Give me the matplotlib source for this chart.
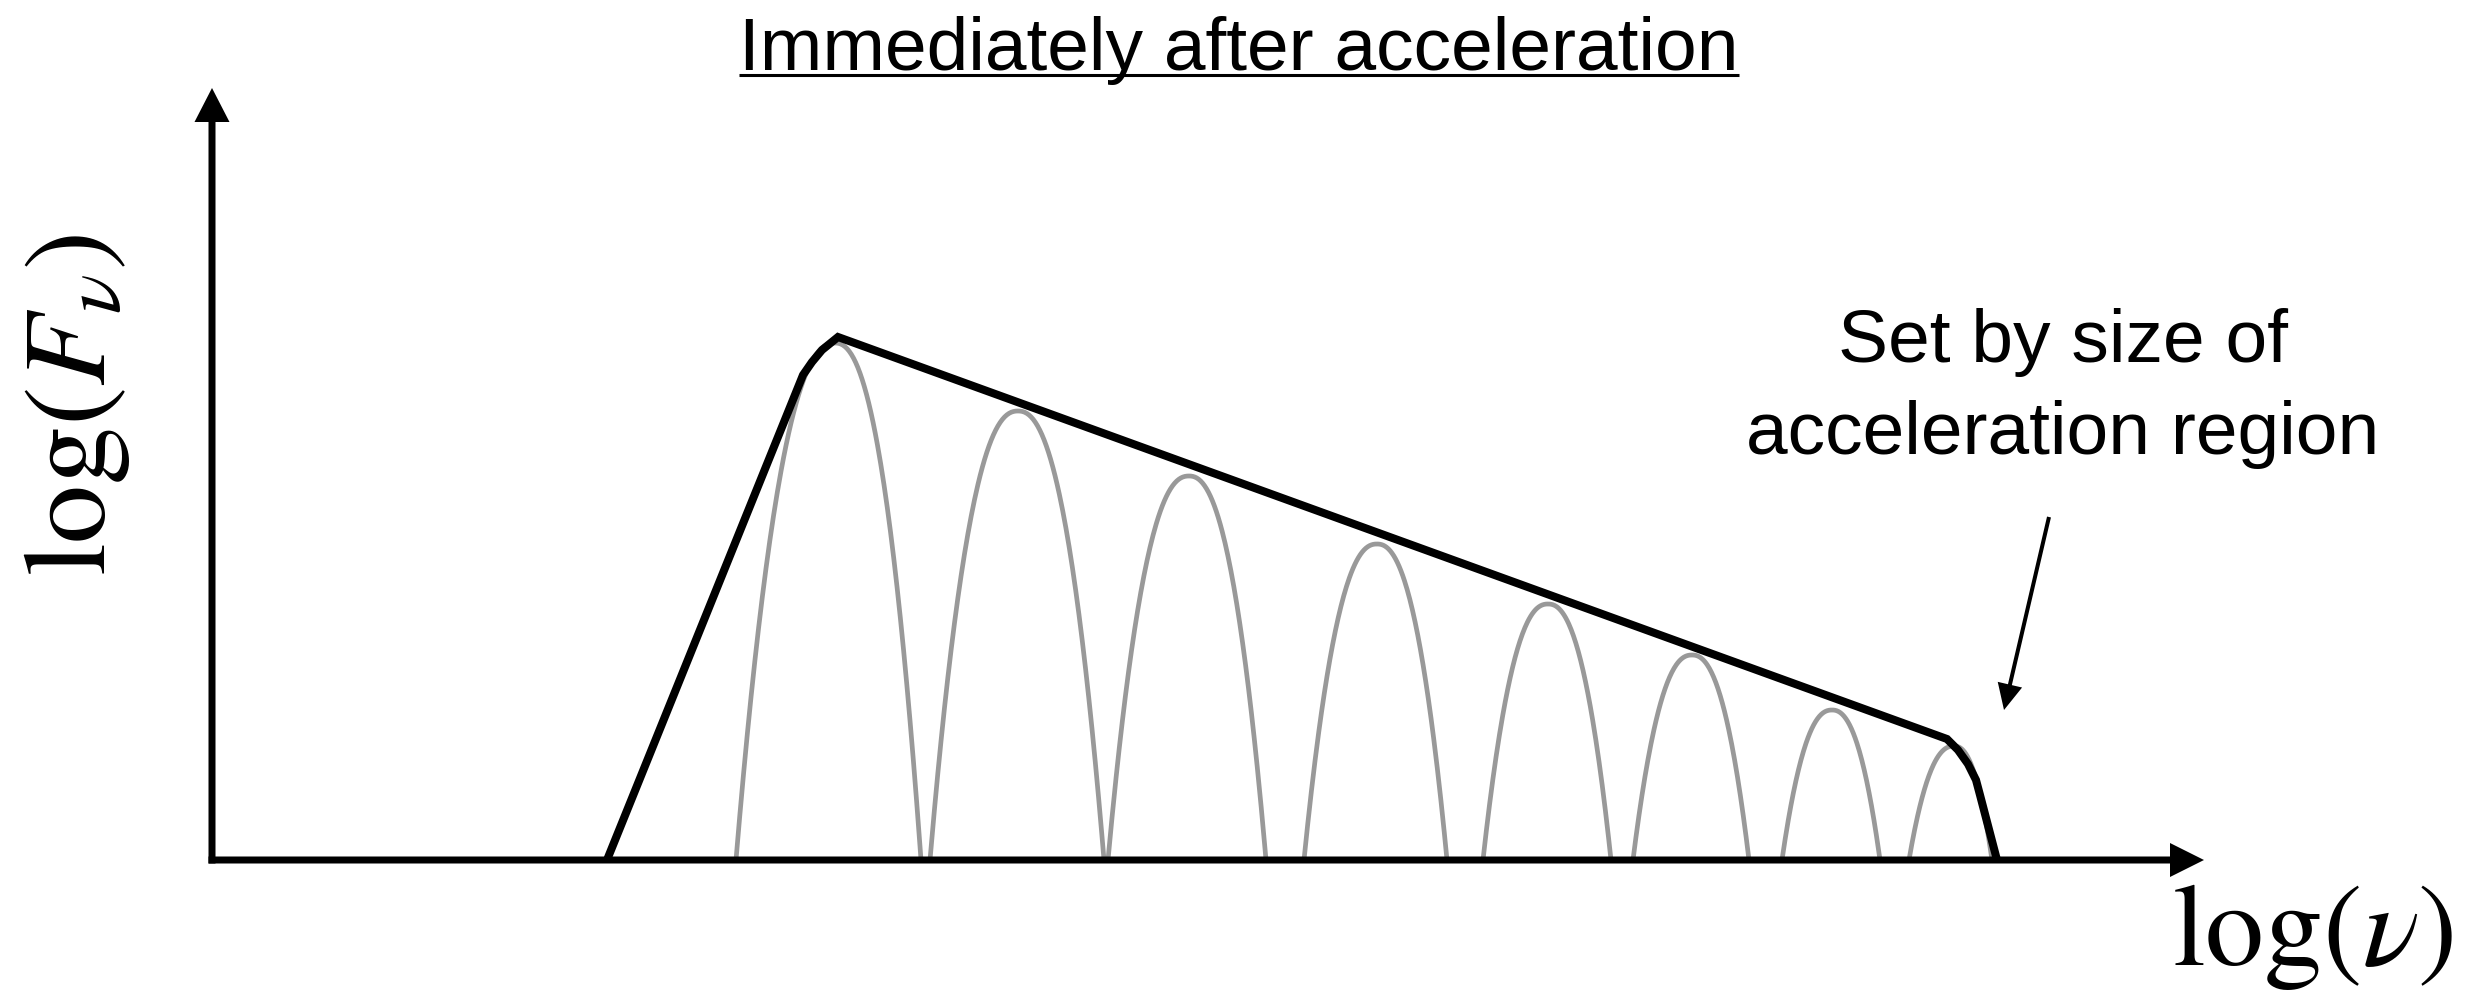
import numpy as np
import matplotlib.pyplot as plt

plt.rcParams['font.family'] = ['Liberation Sans', 'DejaVu Sans']
plt.rcParams['mathtext.fontset'] = 'stix'

# total spectrum envelope in (log nu, log F_nu)
env_x = [3.95, 5.91, 6.00, 6.10, 6.26, 17.35, 17.46, 17.56, 17.64, 17.68, 17.85]
env_y = [0.00, 4.85, 4.98, 5.10, 5.23, 1.21, 1.10, 0.96, 0.80, 0.65, 0.00]

# individual humps: peak position, peak height, and where each one meets the axis
peak_x = [6.23, 8.06, 9.77, 11.65, 13.36, 14.80, 16.20, 17.42]
peak_y = [5.17, 4.49, 3.84, 3.16, 2.56, 2.05, 1.50, 1.14]
foot_lo = [5.24, 7.18, 8.96, 10.92, 12.71, 14.21, 15.70, 16.97]
foot_hi = [7.09, 8.92, 10.54, 12.35, 13.99, 15.37, 16.68, 17.80]

fig = plt.figure(figsize=(24.88, 9.91), dpi=100)
ax = fig.add_axes([0, 0, 1, 1])
ax.set_xlim(-2.12, 22.76)
ax.set_ylim(-1.31, 8.60)
ax.axis('off')

# grey humps, rounded top and steep sides
for xp, yp, a, b in zip(peak_x, peak_y, foot_lo, foot_hi):
    xl = np.linspace(a, xp, 80)
    xr = np.linspace(xp, b, 80)[1:]
    u = np.concatenate([(xp - xl) / (xp - a), (xr - xp) / (b - xp)])
    x = np.concatenate([xl, xr])
    ax.plot(x, yp * (1 - u ** 2.3), color='#999999', lw=3.4, zorder=2)

ax.plot(env_x, env_y, color='k', lw=5.8, solid_joinstyle='miter',
        solid_capstyle='butt', zorder=3)

# axes drawn as arrows
ax.arrow(0, -0.035, 0, 7.755, width=0.07, head_width=0.35, head_length=0.34,
         length_includes_head=True, color='k', lw=0, zorder=4)
ax.arrow(-0.035, 0, 19.955, 0, width=0.07, head_width=0.34, head_length=0.34,
         length_includes_head=True, color='k', lw=0, zorder=4)

ax.text(19.60, -1.05, r'$\log(\nu)$', fontsize=85, ha='left', va='baseline')
ax.text(-1.35, 4.55, r'$\log(F_\nu)$', fontsize=85, rotation=90,
        ha='center', va='center')

# underlined title
title = ax.text(10.27, 7.90, 'Immediately after acceleration', fontsize=54,
                ha='center', va='baseline')
fig.canvas.draw()
bb = title.get_window_extent().transformed(ax.transData.inverted())
ax.plot([bb.x0, bb.x1], [7.85, 7.85], color='k', lw=2.2, solid_capstyle='butt')

# note on the cutoff
ax.text(18.51, 4.98, 'Set by size of', fontsize=54, ha='center', va='baseline')
ax.text(18.51, 4.06, 'acceleration region', fontsize=54, ha='center', va='baseline')
ax.arrow(18.37, 3.43, -0.45, -1.93, width=0.04, head_width=0.25, head_length=0.26,
         length_includes_head=True, color='k', lw=0)

fig.savefig('out.png', dpi=100)
